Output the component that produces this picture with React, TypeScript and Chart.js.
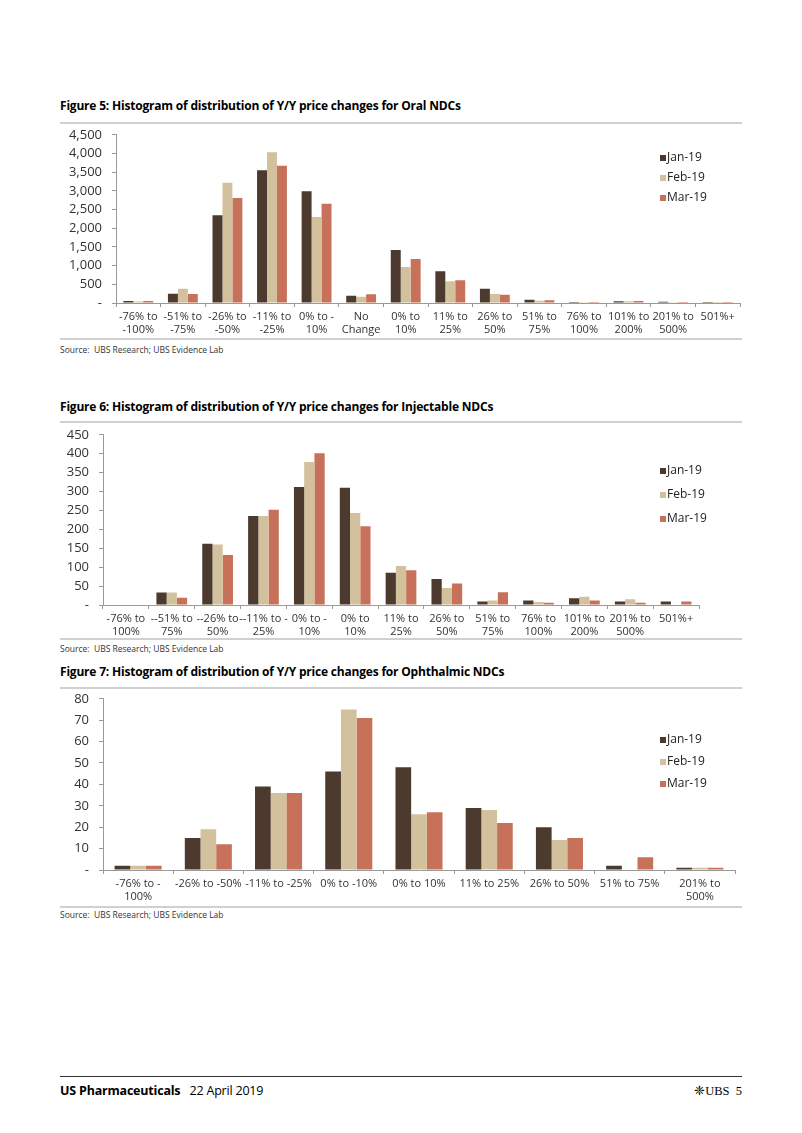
import React, { useEffect, useRef } from "react";
import { Chart, registerables } from "chart.js";

Chart.register(...registerables);

const SERIES = ["Jan-19", "Feb-19", "Mar-19"];
const COLORS = ["#4b3a2d", "#d3c19d", "#c8715a"];

const oralLabels = [
  ["-76% to", "-100%"], ["-51% to", "-75%"], ["-26% to", "-50%"], ["-11% to", "-25%"],
  ["0% to -", "10%"], ["No", "Change"], ["0% to", "10%"], ["11% to", "25%"],
  ["26% to", "50%"], ["51% to", "75%"], ["76% to", "100%"], ["101% to", "200%"],
  ["201% to", "500%"], "501%+",
];
const oralJan = [55, 250, 2350, 3550, 2990, 195, 1420, 850, 380, 90, 27, 45, 35, 2];
const oralFeb = [40, 380, 3220, 4030, 2300, 165, 960, 585, 240, 62, 18, 45, 18, 1];
const oralMar = [55, 240, 2810, 3670, 2655, 235, 1180, 610, 220, 72, 27, 53, 27, 2];

const injLabels = [
  ["-76% to", "100%"], ["--51% to", "75%"], ["--26% to", "50%"], ["--11% to -", "25%"],
  ["0% to -", "10%"], ["0% to", "10%"], ["11% to", "25%"], ["26% to", "50%"],
  ["51% to", "75%"], ["76% to", "100%"], ["101% to", "200%"], ["201% to", "500%"], "501%+",
];
const injJan = [0, 33, 162, 235, 312, 310, 85, 69, 9, 12, 18, 9, 9];
const injFeb = [0, 33, 160, 235, 378, 243, 103, 45, 12, 8, 22, 15, 0];
const injMar = [1, 19, 132, 252, 401, 208, 92, 57, 34, 6, 12, 6, 9];

const ophLabels = [
  ["-76% to -", "100%"], "-26% to -50%", "-11% to -25%", "0% to -10%", "0% to 10%",
  "11% to 25%", "26% to 50%", "51% to 75%", ["201% to", "500%"],
];
const ophJan = [2, 15, 39, 46, 48, 29, 20, 2, 1];
const ophFeb = [2, 19, 36, 75, 26, 28, 14, 0, 1];
const ophMar = [2, 12, 36, 71, 27, 22, 15, 6, 1];

const FONT = "'Open Sans', 'Noto Sans', sans-serif";
const CANVAS_LEFT = 40;
const CANVAS_WIDTH = 720;
const TOP_PAD = 10;
const LABEL_OVERHANG = 8;

type Spec = {
  labels: any[];
  data: number[][];
  max: number;
  step: number;
  plotTop: number;
  plotBottom: number;
  axisLeft: number;
  axisRight: number;
  xAxisH: number;
  legendX: number;
  legendY: number[];
};

function BarChart({ spec }: { spec: Spec }) {
  const ref = useRef<HTMLCanvasElement>(null);
  const canvasTop = spec.plotTop - TOP_PAD - LABEL_OVERHANG;
  const height = spec.plotBottom + spec.xAxisH - canvasTop;
  useEffect(() => {
    const legendPlugin = {
      id: "customLegend",
      afterDraw(chart: any) {
        const ctx = chart.ctx;
        ctx.save();
        ctx.font = `12px ${FONT}`;
        ctx.textBaseline = "middle";
        chart.data.datasets.forEach((ds: any, i: number) => {
          const x = spec.legendX - CANVAS_LEFT;
          const y = spec.legendY[i] - canvasTop;
          ctx.fillStyle = ds.backgroundColor;
          ctx.fillRect(x, y - 3, 6, 6);
          ctx.fillStyle = "#222";
          ctx.fillText(ds.label, x + 7, y);
        });
        ctx.restore();
      },
    };
    const chart = new Chart(ref.current!, {
      type: "bar",
      data: {
        labels: spec.labels,
        datasets: spec.data.map((d, i) => ({
          label: SERIES[i],
          data: d,
          backgroundColor: COLORS[i],
          categoryPercentage: 0.67,
          barPercentage: 1,
        })),
      },
      options: {
        animation: false,
        responsive: false,
        maintainAspectRatio: false,
        layout: {
          padding: {
            top: TOP_PAD,
            right: CANVAS_LEFT + CANVAS_WIDTH - spec.axisRight,
            bottom: 0,
            left: 0,
          },
        },
        plugins: { legend: { display: false }, tooltip: { enabled: false } },
        scales: {
          x: {
            grid: { drawOnChartArea: false, tickLength: 4, color: "#9a9a9a", offset: true },
            border: { color: "#9a9a9a" },
            ticks: {
              font: { family: FONT, size: 11 },
              color: "#333",
              padding: 3,
              maxRotation: 0,
              autoSkip: false,
            },
            afterFit: (s: any) => {
              s.height = spec.xAxisH;
            },
          },
          y: {
            min: 0,
            max: spec.max,
            grid: { drawOnChartArea: false, tickLength: 4, color: "#9a9a9a" },
            border: { color: "#9a9a9a" },
            ticks: {
              stepSize: spec.step,
              autoSkip: false,
              font: { family: FONT, size: 13 },
              color: "#333",
              padding: 10,
              callback: (v: any) => (v === 0 ? "-" : Number(v).toLocaleString("en-US")),
            },
            afterFit: (s: any) => {
              s.width = spec.axisLeft - CANVAS_LEFT;
            },
          },
        },
      },
      plugins: [legendPlugin],
    });
    return () => chart.destroy();
  }, []);
  return (
    <canvas
      ref={ref}
      width={CANVAS_WIDTH}
      height={height}
      style={{ position: "absolute", left: CANVAS_LEFT, top: canvasTop, width: CANVAS_WIDTH, height }}
    />
  );
}

const specs: Spec[] = [
  {
    labels: oralLabels, data: [oralJan, oralFeb, oralMar], max: 4500, step: 500,
    plotTop: 135, plotBottom: 303, axisLeft: 116, axisRight: 740, xAxisH: 36,
    legendX: 660, legendY: [158, 178, 198],
  },
  {
    labels: injLabels, data: [injJan, injFeb, injMar], max: 450, step: 50,
    plotTop: 435, plotBottom: 605, axisLeft: 103, axisRight: 699, xAxisH: 32,
    legendX: 660, legendY: [471, 495, 519],
  },
  {
    labels: ophLabels, data: [ophJan, ophFeb, ophMar], max: 80, step: 10,
    plotTop: 699, plotBottom: 870, axisLeft: 103, axisRight: 735, xAxisH: 33,
    legendX: 660, legendY: [740, 762, 784],
  },
];

const titles = [
  "Figure 5: Histogram of distribution of Y/Y price changes for Oral NDCs",
  "Figure 6: Histogram of distribution of Y/Y price changes for Injectable NDCs",
  "Figure 7: Histogram of distribution of Y/Y price changes for Ophthalmic NDCs",
];
const titleY = [106, 407, 672];
const topRuleY = [122, 421, 687];
const bottomRuleY = [338, 638, 906];
const sourceY = [350, 649, 915];

const rule = (y: number, color = "#d0d0d0", h = 1.5) => (
  <div style={{ position: "absolute", left: 60, width: 682, top: y, height: h, background: color }} />
);

export default function App() {
  return (
    <div style={{ position: "absolute", left: 0, top: 0, width: 802, height: 1133, background: "#fff", fontFamily: FONT }}>
      {titles.map((t, i) => (
        <div key={"t" + i} style={{ position: "absolute", left: 60, top: titleY[i] - 8, fontWeight: 700, fontSize: 12, letterSpacing: "-0.2px", lineHeight: "16px", color: "#000", whiteSpace: "nowrap" }}>{t}</div>
      ))}
      {topRuleY.map((y, i) => <React.Fragment key={"r" + i}>{rule(y)}</React.Fragment>)}
      {bottomRuleY.map((y, i) => <React.Fragment key={"b" + i}>{rule(y)}</React.Fragment>)}
      {sourceY.map((y, i) => (
        <div key={"s" + i} style={{ position: "absolute", left: 60, top: y - 6, fontSize: 8.5, lineHeight: "12px", color: "#333", whiteSpace: "nowrap" }}>Source:&nbsp; UBS Research; UBS Evidence Lab</div>
      ))}
      {specs.map((s, i) => <BarChart key={"c" + i} spec={s} />)}
      {rule(1076, "#333", 1)}
      <div style={{ position: "absolute", left: 60, top: 1083, fontSize: 12.5, lineHeight: "16px", color: "#000", whiteSpace: "nowrap", letterSpacing: "-0.2px" }}>
        <span style={{ fontWeight: 700 }}>US Pharmaceuticals</span>&nbsp;&nbsp; 22 April 2019
      </div>
      <div style={{ position: "absolute", right: 60, top: 1083, fontSize: 12.5, lineHeight: "16px", color: "#000", whiteSpace: "nowrap", fontFamily: "'Liberation Serif', serif" }}>
        ❈UBS&nbsp; 5
      </div>
    </div>
  );
}
